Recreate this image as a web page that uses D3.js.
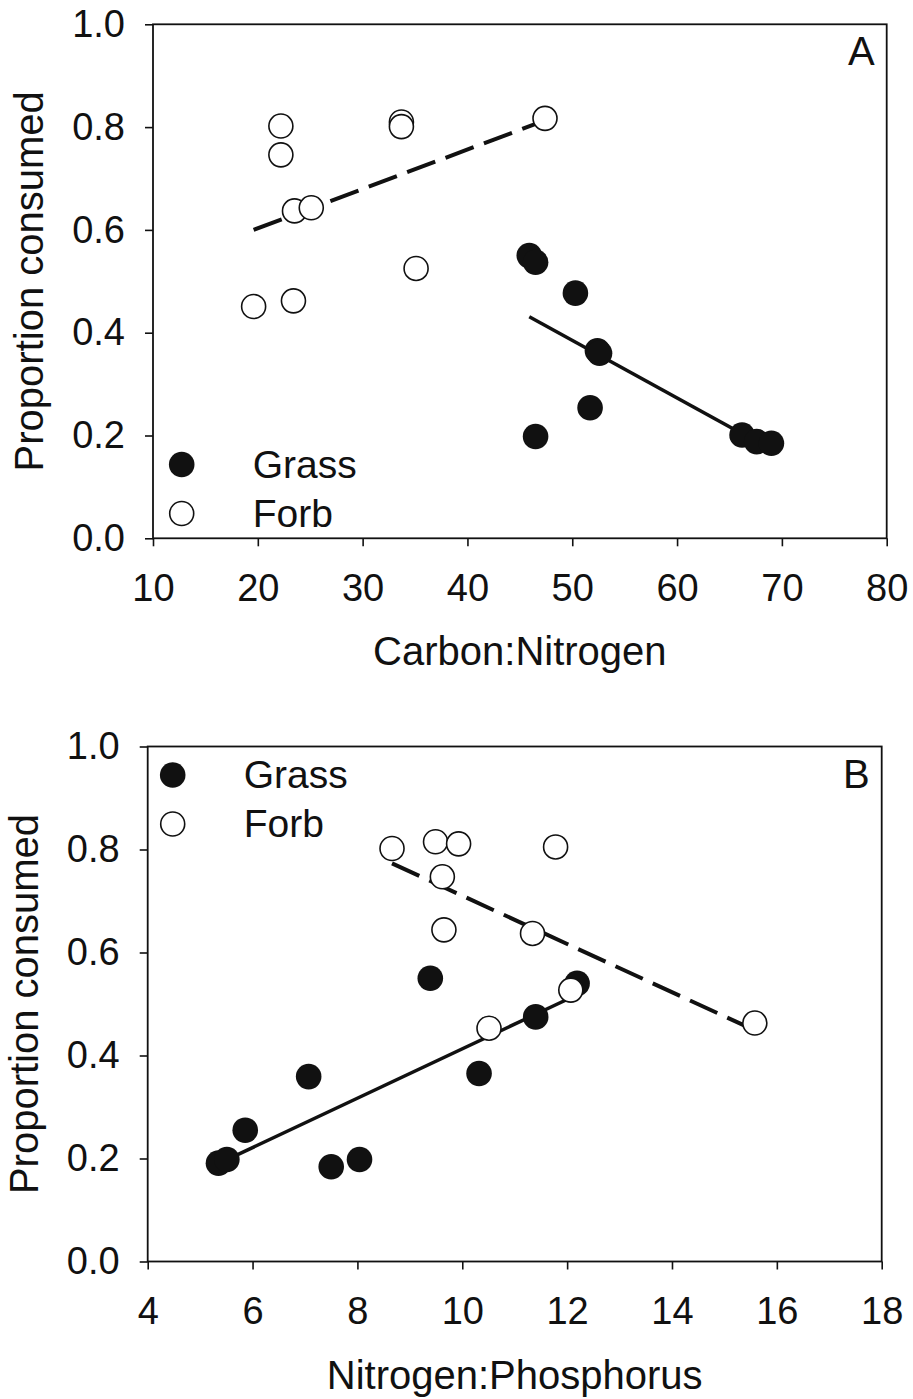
<!DOCTYPE html>
<html>
<head>
<meta charset="utf-8">
<script src="https://cdn.jsdelivr.net/npm/d3@7"></script>
<style>
  body { margin: 0; background: #fff; }
  text { font-family: "Liberation Sans", Arial, sans-serif; fill: #111; }
</style>
</head>
<body>
<div id="chart"></div>
<script>
// Panel A: proportion consumed vs carbon:nitrogen
const cnGrassX = [45.9, 46.5, 50.3, 52.4, 52.6, 51.7, 46.5, 66.2, 67.6, 69.0];
const cnGrassY = [0.550, 0.537, 0.477, 0.365, 0.360, 0.254, 0.198, 0.201, 0.188, 0.185];
const cnForbX = [22.2, 22.2, 23.5, 25.1, 33.7, 33.7, 35.1, 19.6, 23.4, 47.4];
const cnForbY = [0.802, 0.746, 0.637, 0.643, 0.810, 0.801, 0.525, 0.451, 0.462, 0.817];
const cnGrassFit = [[45.9, 0.431], [69.0, 0.172]];
const cnForbFit = [[19.6, 0.600], [47.4, 0.813]];
const cnTicks = [10, 20, 30, 40, 50, 60, 70, 80];

// Panel B: proportion consumed vs nitrogen:phosphorus
const npGrassX = [5.35, 5.51, 5.86, 7.07, 7.50, 8.04, 9.39, 10.32, 11.40, 12.19];
const npGrassY = [0.191, 0.198, 0.255, 0.359, 0.184, 0.198, 0.550, 0.365, 0.475, 0.540];
const npForbX = [8.66, 9.49, 9.93, 9.62, 9.65, 11.78, 11.34, 12.07, 15.58, 10.51];
const npForbY = [0.802, 0.815, 0.811, 0.747, 0.644, 0.805, 0.637, 0.527, 0.463, 0.453];
const npGrassFit = [[5.35, 0.190], [12.19, 0.518]];
const npForbFit = [[8.66, 0.773], [15.58, 0.449]];
const npTicks = [4, 6, 8, 10, 12, 14, 16, 18];

const yTicks = [0, 0.2, 0.4, 0.6, 0.8, 1.0];
const legendLabels = ['Grass', 'Forb'];

const svg = d3.select('#chart')
  .append('svg')
  .attr('width', 913)
  .attr('height', 1399);

function drawPanel(p) {
  const x = d3.scaleLinear().domain(d3.extent(p.xTicks)).range([p.left, p.right]);
  const y = d3.scaleLinear().domain([0, 1]).range([p.bottom, p.top]);
  const g = svg.append('g');

  // axes
  g.append('g')
    .attr('transform', `translate(${p.left},0)`)
    .call(d3.axisLeft(y).tickValues(yTicks).tickFormat(d3.format('.1f')).tickSize(8).tickPadding(20))
    .call(a => a.select('.domain').remove())
    .call(a => a.selectAll('line').attr('stroke', '#111').attr('stroke-width', 1.6))
    .call(a => a.selectAll('text').attr('font-size', 38).attr('fill', '#111').attr('font-family', null));

  g.append('g')
    .attr('transform', `translate(0,${p.bottom})`)
    .call(d3.axisBottom(x).tickValues(p.xTicks).tickSize(8).tickPadding(28))
    .call(a => a.select('.domain').remove())
    .call(a => a.selectAll('line').attr('stroke', '#111').attr('stroke-width', 1.6))
    .call(a => a.selectAll('text').attr('font-size', 38).attr('fill', '#111').attr('font-family', null));

  g.append('rect')
    .attr('x', p.left).attr('y', p.top)
    .attr('width', p.right - p.left).attr('height', p.bottom - p.top)
    .attr('fill', 'none').attr('stroke', '#111').attr('stroke-width', 1.8);

  // titles
  g.append('text')
    .attr('x', (p.left + p.right) / 2)
    .attr('y', p.bottom + 127)
    .attr('text-anchor', 'middle')
    .attr('font-size', 40)
    .text(p.xLabel);

  g.append('text')
    .attr('transform', `translate(${p.left - 110},${(p.top + p.bottom) / 2}) rotate(-90)`)
    .attr('text-anchor', 'middle')
    .attr('font-size', 40)
    .text('Proportion consumed');

  g.append('text')
    .attr('x', p.right - 12)
    .attr('y', p.top + 41)
    .attr('text-anchor', 'end')
    .attr('font-size', 40)
    .text(p.tag);

  // regression lines
  const line = d3.line().x(d => x(d[0])).y(d => y(d[1]));
  g.append('path')
    .attr('d', line(p.grassFit))
    .attr('fill', 'none').attr('stroke', '#111').attr('stroke-width', 3.5);
  g.append('path')
    .attr('d', line(p.forbFit))
    .attr('fill', 'none').attr('stroke', '#111').attr('stroke-width', 4)
    .attr('stroke-dasharray', '30,11');

  // points
  g.selectAll('.grass')
    .data(d3.zip(p.grassX, p.grassY))
    .enter().append('circle')
    .attr('class', 'grass')
    .attr('cx', d => x(d[0])).attr('cy', d => y(d[1]))
    .attr('r', 12.8).attr('fill', '#111');

  g.selectAll('.forb')
    .data(d3.zip(p.forbX, p.forbY))
    .enter().append('circle')
    .attr('class', 'forb')
    .attr('cx', d => x(d[0])).attr('cy', d => y(d[1]))
    .attr('r', 12).attr('fill', '#fff').attr('stroke', '#111').attr('stroke-width', 1.6);

  // legend
  const lg = g.append('g').attr('transform', `translate(${p.legendX},${p.legendY})`);
  legendLabels.forEach((label, i) => {
    const row = lg.append('g').attr('transform', `translate(0,${i * 49})`);
    row.append('circle')
      .attr('r', i === 0 ? 12.8 : 12)
      .attr('fill', i === 0 ? '#111' : '#fff')
      .attr('stroke', i === 0 ? 'none' : '#111')
      .attr('stroke-width', 1.6);
    row.append('text')
      .attr('x', 71).attr('y', 13)
      .attr('font-size', 39)
      .text(label);
  });
}

drawPanel({
  left: 153, right: 886.7, top: 24.3, bottom: 538.3,
  xTicks: cnTicks, xLabel: 'Carbon:Nitrogen', tag: 'A',
  grassX: cnGrassX, grassY: cnGrassY, forbX: cnForbX, forbY: cnForbY,
  grassFit: cnGrassFit, forbFit: cnForbFit,
  legendX: 181.7, legendY: 464.5
});

drawPanel({
  left: 147.7, right: 881.7, top: 746.5, bottom: 1261.5,
  xTicks: npTicks, xLabel: 'Nitrogen:Phosphorus', tag: 'B',
  grassX: npGrassX, grassY: npGrassY, forbX: npForbX, forbY: npForbY,
  grassFit: npGrassFit, forbFit: npForbFit,
  legendX: 172.7, legendY: 775
});
</script>
</body>
</html>
